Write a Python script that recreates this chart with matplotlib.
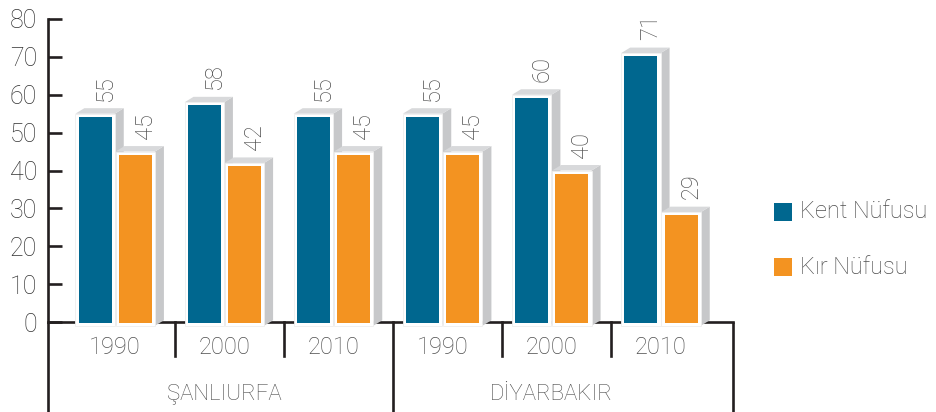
import matplotlib
matplotlib.use('Agg')
import matplotlib.pyplot as plt
from matplotlib.patches import Polygon, Rectangle

plt.rcParams['font.family'] = ['Roboto', 'DejaVu Sans']
plt.rcParams['font.weight'] = 'light'

cities = ['ŞANLIURFA', 'DİYARBAKIR']
years = ['1990', '2000', '2010', '1990', '2000', '2010']
kent = [55, 58, 55, 55, 60, 71]
kir = [45, 42, 45, 45, 40, 29]
series_names = ['Kent Nüfusu', 'Kır Nüfusu']

BLUE = '#00678f'
ORANGE = '#f39321'
TOP_GREY = '#d8d9db'
SIDE_GREY = '#c7c8ca'
INK = '#231f20'
TXT = '#4e4e4e'

fig = plt.figure(figsize=(9.36, 4.12), dpi=100)
ax = fig.add_axes([48 / 936, 90 / 412, 685 / 936, 303 / 412])
ax.set_xlim(-0.615, 5.66)
ax.set_ylim(0, 80)

# pixel -> data helpers
px_x = 6.275 / 685
px_y = 80 / 303

wc = 33 * px_x        # coloured width
m = 3.2 * px_x        # white border
dx = 9 * px_x         # 3d depth
dy = 5.5 * px_y
off = 0.184


def draw_bar(xc, val, color):
    xl, xr = xc - wc / 2 - m, xc + wc / 2 + m
    bot = -1.0
    # 3d faces
    ax.add_patch(Polygon([(xr, bot), (xr + dx, bot + dy), (xr + dx, val + dy), (xr, val)],
                         closed=True, fc=SIDE_GREY, ec='none', zorder=3, clip_on=False))
    ax.add_patch(Polygon([(xl, val), (xl + dx, val + dy), (xr + dx, val + dy), (xr, val)],
                         closed=True, fc=TOP_GREY, ec='none', zorder=3, clip_on=False))
    # white frame + coloured body
    ax.add_patch(Rectangle((xl, bot), xr - xl, val - bot, fc='white', ec='#eeeeee',
                           lw=0.6, zorder=3, clip_on=False))
    ax.add_patch(Rectangle((xc - wc / 2, -0.2), wc, val - 0.8 + 0.2, fc=color, ec='none',
                           zorder=3, clip_on=False))
    ax.text(xc + 10 * px_x, val + 3.4, str(val), rotation=90, ha='center', va='bottom',
            fontsize=17, color=TXT, zorder=4)


for i in range(len(years)):
    draw_bar(i - off, kent[i], BLUE)
    draw_bar(i + off, kir[i], ORANGE)

# axes styling
for s in ['top', 'right']:
    ax.spines[s].set_visible(False)
ax.spines['left'].set_linewidth(1.9)
ax.spines['bottom'].set_linewidth(1.9)
ax.spines['left'].set_color(INK)
ax.spines['bottom'].set_color(INK)
ax.set_yticks(range(0, 81, 10))
ax.set_xticks([])
ax.tick_params(axis='y', direction='in', length=10, width=1.9, color=INK,
               labelsize=18, labelcolor='#333333', pad=8)

# category separators
sep = [i + 0.5 + 0.045 for i in range(5)]
for j, x in enumerate(sep):
    low = -24 if j == 2 else -9
    ax.plot([x, x], [0, low], color=INK, lw=1.9, clip_on=False, zorder=2)
for x in [ax.get_xlim()[0], ax.get_xlim()[1]]:
    ax.plot([x, x], [0, -24], color=INK, lw=1.9, clip_on=False, zorder=2,
            solid_capstyle='butt')

for i, y in enumerate(years):
    ax.text(i, -6.7, y, ha='center', va='center', fontsize=17, color=TXT)
ax.text(1, -19.1, cities[0], ha='center', va='center', fontsize=16, color=TXT)
ax.text(4, -19.1, cities[1], ha='center', va='center', fontsize=16, color=TXT)

# legend
for k, (name, col) in enumerate(zip(series_names, [BLUE, ORANGE])):
    yc = 212 + k * 55
    fig.patches.append(Rectangle((774 / 936, 1 - (yc + 9) / 412), 18 / 936, 18 / 412,
                                 transform=fig.transFigure, fc=col, ec='none'))
    fig.text(800 / 936, 1 - yc / 412, name, ha='left', va='center', fontsize=17, color=TXT)

fig.savefig('out.png', dpi=100)
